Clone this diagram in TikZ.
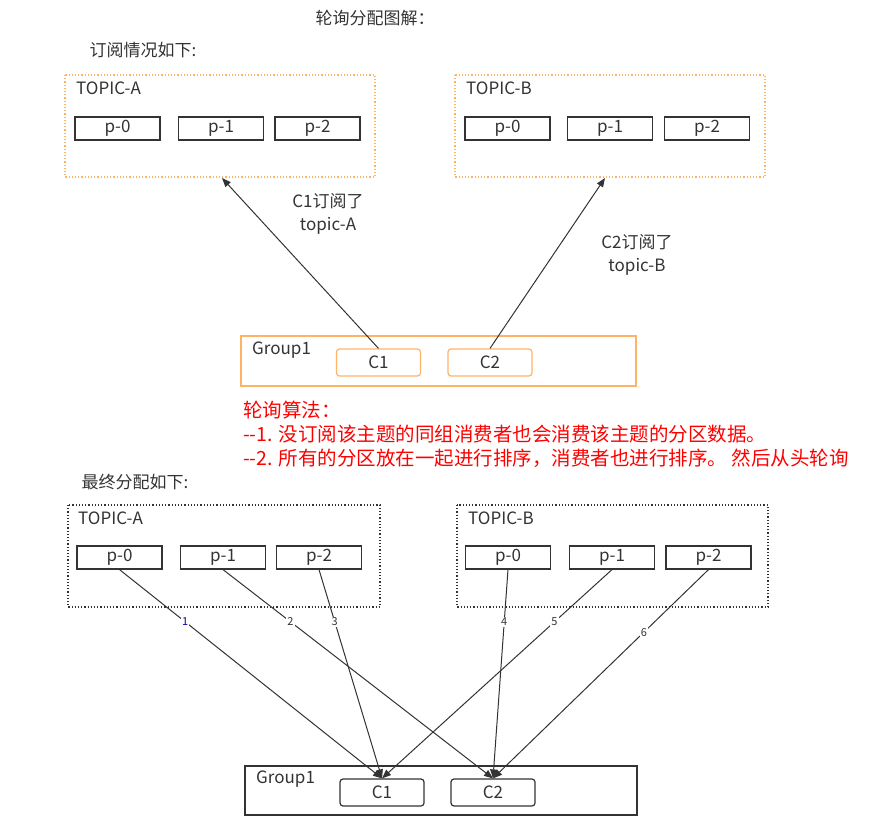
\documentclass[tikz,border=0pt]{standalone}
\usepackage{fontspec}
\setmainfont{Noto Sans CJK SC}
\usetikzlibrary{arrows.meta}
\definecolor{orng}{HTML}{FFB366}
\definecolor{ink}{HTML}{333333}
\tikzset{
  part/.style={draw=ink, line width=1.2pt, minimum width=85pt, minimum height=23pt, inner sep=0pt, font=\fontsize{17}{17}\selectfont, text=ink},
  cons/.style={draw=orng, line width=1.2pt, rounded corners=3pt, minimum width=84pt, minimum height=27pt, inner sep=0pt, font=\fontsize{17}{17}\selectfont, text=ink},
  conb/.style={cons, draw=ink},
  txt/.style={font=\fontsize{17}{23}\selectfont, text=ink, inner sep=0pt},
  link/.style={draw=ink, line width=1pt, -{Triangle[length=9pt,width=7pt]}},
  num/.style={fill=white, inner sep=1pt, font=\fontsize{11}{11}\selectfont, text=ink}
}
\begin{document}
\begin{tikzpicture}[x=1pt,y=-1pt]
\useasboundingbox (0,0) rectangle (895,837);

% headings
\node[txt] (title) at (375,18) {轮询分配图解：};
\node[txt] (sub1) at (143,50) {订阅情况如下:};

% subscription, topic A
\draw[orng, line width=1.2pt, dotted] (65,75) rectangle (375,177);
\node[txt, anchor=west] (ta) at (76,88) {TOPIC-A};
\node[part] (ap0) at (117.5,128.5) {p-0};
\node[part] (ap1) at (221,128.5) {p-1};
\node[part] (ap2) at (317.5,128.5) {p-2};

% subscription, topic B
\draw[orng, line width=1.2pt, dotted] (455,75) rectangle (765,177);
\node[txt, anchor=west] (tb) at (466,88) {TOPIC-B};
\node[part] (bp0) at (507.5,128.5) {p-0};
\node[part] (bp1) at (610,128.5) {p-1};
\node[part] (bp2) at (707,128.5) {p-2};

% group
\draw[orng, line width=1.2pt] (241,336) rectangle (636,386);
\node[txt, anchor=west] (g1) at (252,350) {Group1};
\node[cons] (c1) at (378.5,362.5) {C1};
\node[cons] (c2) at (490,362.5) {C2};
\coordinate (topa) at (222,178);
\coordinate (topb) at (605,178);
\draw[link] (c1.north) -- (topa);
\draw[link] (c2.north) -- (topb);
\node[txt, align=center] (la) at (328,214) {C1订阅了\\topic-A};
\node[txt, align=center] (lb) at (637,255) {C2订阅了\\topic-B};

% algorithm
\node[txt, font=\fontsize{19.5}{24}\selectfont, text=red, anchor=west, align=left] (algo) at (243,434) {轮询算法：\\{-}{-}1. 没订阅该主题的同组消费者也会消费该主题的分区数据。\\{-}{-}2. 所有的分区放在一起进行排序，消费者也进行排序。 然后从头轮询};

\node[txt] (sub2) at (135,482) {最终分配如下:};

% result, topic A
\draw[ink, line width=1.2pt, dotted] (68,505) rectangle (380,607);
\node[txt, anchor=west] (ra) at (78,518) {TOPIC-A};
\node[part] (ra0) at (119.5,557.5) {p-0};
\node[part] (ra1) at (223,557.5) {p-1};
\node[part] (ra2) at (319,557.5) {p-2};

% result, topic B
\draw[ink, line width=1.2pt, dotted] (457,505) rectangle (768,607);
\node[txt, anchor=west] (rb) at (468,518) {TOPIC-B};
\node[part] (rb0) at (508,557.5) {p-0};
\node[part] (rb1) at (612,557.5) {p-1};
\node[part] (rb2) at (708.5,557.5) {p-2};

% result group
\draw[ink, line width=1.2pt] (245,766) rectangle (637,815);
\node[txt, anchor=west] (g2) at (256,779) {Group1};
\node[conb] (d1) at (382,792.5) {C1};
\node[conb] (d2) at (493,792.5) {C2};

\draw[link] (ra0.south) -- node[num, pos=0.25, text=blue!70!black] {1} (d1.north);
\draw[link] (ra1.south) -- node[num, pos=0.25] {2} (d2.north);
\draw[link] (ra2.south) -- node[num, pos=0.25] {3} (d1.north);
\draw[link] (rb0.south) -- node[num, pos=0.25] {4} (d2.north);
\draw[link] (rb1.south) -- node[num, pos=0.25] {5} (d1.north);
\draw[link] (rb2.south) -- node[num, pos=0.30] {6} (d2.north);
\end{tikzpicture}
\end{document}
